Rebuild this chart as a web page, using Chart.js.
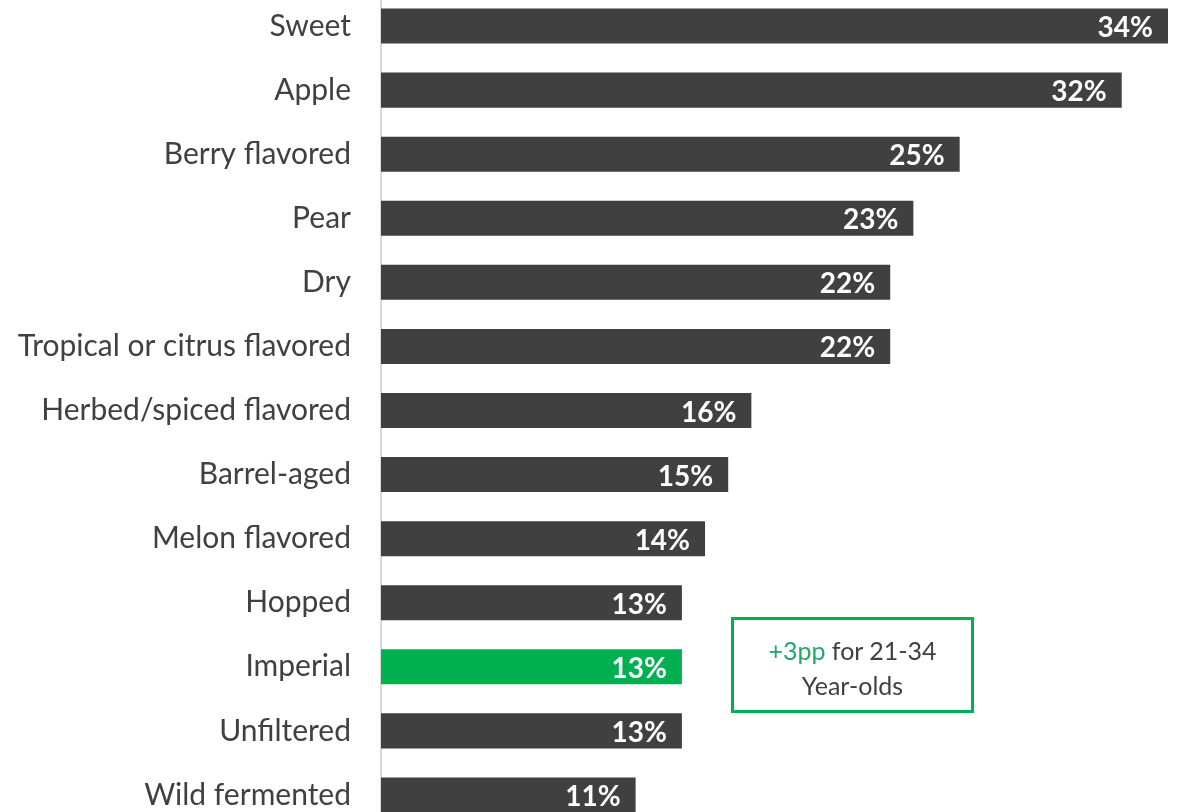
<!DOCTYPE html>
<html>
<head>
<meta charset="utf-8">
<script src="https://cdn.jsdelivr.net/npm/chart.js@4/dist/chart.umd.min.js"></script>
<style>
  html, body { margin: 0; padding: 0; background: #fff; overflow: hidden; }
  #wrap { position: absolute; left: 0; top: -6px; width: 1181px; height: 833px; }
  .note {
    position: absolute; left: 731px; top: 617px; width: 243px; height: 96px;
    border: 3px solid #00b050; box-sizing: border-box;
    font-family: Lato, "Open Sans", sans-serif; font-size: 25px; color: #404040;
    text-align: center; line-height: 35px; padding-top: 13px;
  }
  .note .hl { color: #22a66a; }
</style>
</head>
<body>
<div id="wrap"><canvas id="flavorChart"></canvas></div>
<div class="note"><span class="hl">+3pp</span> for 21-34<br>Year-olds</div>
<script>
// Flavor preference share, % of respondents
var categories = ['Sweet', 'Apple', 'Berry flavored', 'Pear', 'Dry', 'Tropical or citrus flavored',
  'Herbed/spiced flavored', 'Barrel-aged', 'Melon flavored', 'Hopped', 'Imperial', 'Unfiltered', 'Wild fermented'];
var shares = [34, 32, 25, 23, 22, 22, 16, 15, 14, 13, 13, 13, 11];
var highlighted = ['Imperial'];

var DARK = '#404040';
var GREEN = '#00b050';
var FONT = 'Lato, "Open Sans", sans-serif';

// White value labels right-aligned inside the bar end
var valueLabels = {
  id: 'valueLabels',
  afterDatasetsDraw: function(chart) {
    var ctx = chart.ctx;
    var meta = chart.getDatasetMeta(0);
    ctx.save();
    ctx.fillStyle = '#fff';
    ctx.font = 'bold 28px ' + FONT;
    ctx.textAlign = 'right';
    ctx.textBaseline = 'middle';
    meta.data.forEach(function(bar, i) {
      ctx.fillText(shares[i] + '%', bar.x - 15, bar.y + 2);
    });
    ctx.restore();
  }
};

new Chart(document.getElementById('flavorChart'), {
  type: 'bar',
  data: {
    labels: categories,
    datasets: [{
      data: shares,
      backgroundColor: categories.map(function(c) { return highlighted.indexOf(c) >= 0 ? GREEN : DARK; }),
      categoryPercentage: 1,
      barPercentage: 0.547
    }]
  },
  options: {
    indexAxis: 'y',
    responsive: true,
    maintainAspectRatio: false,
    animation: false,
    layout: { padding: { right: 13, top: 0, bottom: 0 } },
    plugins: { legend: { display: false }, tooltip: { enabled: false } },
    scales: {
      x: {
        display: false,
        min: 0,
        max: 34
      },
      y: {
        grid: { display: false, drawTicks: false },
        border: { display: true, color: '#d9d9d9', width: 2 },
        ticks: {
          color: DARK,
          font: { family: FONT, size: 30 },
          padding: 30
        },
        afterFit: function(scale) {
          scale.width = 381;
          scale.paddingTop = 0;
          scale.paddingBottom = 0;
        }
      }
    }
  },
  plugins: [valueLabels]
});
</script>
</body>
</html>
